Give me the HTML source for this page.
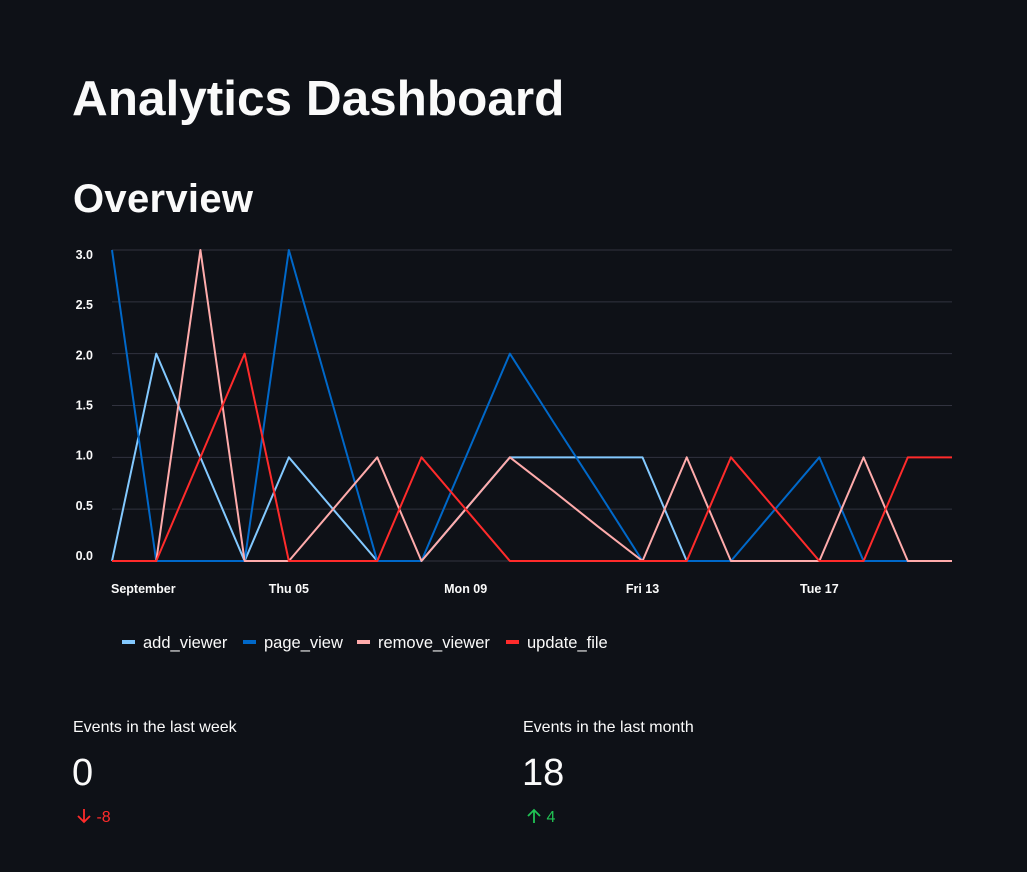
<!DOCTYPE html>
<html><head><meta charset="utf-8">
<style>
body{margin:0;background:#0e1117;width:1027px;height:872px;overflow:hidden;font-family:"Liberation Sans",sans-serif;color:#fafafa;position:relative}
.abs{position:absolute;white-space:nowrap}
</style></head><body>
<div class="abs" style="left:72px;top:70px;font-size:49.5px;font-weight:bold;letter-spacing:0px">Analytics Dashboard</div>
<div class="abs" style="left:73px;top:177px;font-size:40px;font-weight:bold;letter-spacing:0.3px">Overview</div>
<svg class="abs" style="left:0;top:0" width="1027" height="680" id="chart"></svg>
<div class="abs" style="left:73px;top:719px;font-size:16px">Events in the last week</div>
<div class="abs" style="left:72px;top:752px;font-size:38px">0</div>
<div class="abs" style="left:76px;top:808px;font-size:16px;color:#ff2b2b"><svg width="16" height="16" viewBox="0 0 16 16" style="vertical-align:-2px"><path d="M8 1v13M2 8l6 6 6-6" fill="none" stroke="#ff2b2b" stroke-width="1.8"/></svg> -8</div>
<div class="abs" style="left:523px;top:719px;font-size:16px">Events in the last month</div>
<div class="abs" style="left:522px;top:752px;font-size:38px">18</div>
<div class="abs" style="left:526px;top:808px;font-size:16px;color:#21c354"><svg width="16" height="16" viewBox="0 0 16 16" style="vertical-align:-2px"><path d="M8 15V2M2 8l6-6 6 6" fill="none" stroke="#21c354" stroke-width="1.8"/></svg> 4</div>
<script>
const days=[1,2,3,4,5,6,7,8,9,10,11,12,13,14,15,16,17,18,19,20];
const addViewer=[0,2,1,0,1,0.5,0,0,0.5,1,1,1,1,0,0,0,0,0,0,0];
const pageView=[3,0,0,0,3,1.5,0,0,1,2,1.33,0.67,0,0,0,0.5,1,0,0,0];
const removeViewer=[0,0,3,0,0,0.5,1,0,0.5,1,0.67,0.33,0,1,0,0,0,1,0,0];
const updateFile=[0,0,1,2,0,0,0,1,0.5,0,0,0,0,0,1,0.5,0,0,1,1];
const yTicks=[0,0.5,1,1.5,2,2.5,3];
const yTickLabels=["0.0","0.5","1.0","1.5","2.0","2.5","3.0"];
const xTickDays=[1,5,9,13,17];
const xTickLabels=["September","Thu 05","Mon 09","Fri 13","Tue 17"];
const seriesNames=["add_viewer","page_view","remove_viewer","update_file"];
const seriesColors=["#83c9ff","#0068c9","#ffabab","#ff2b2b"];
const seriesData=[addViewer,pageView,removeViewer,updateFile];
const legendX=[122,243,357,506];
const NS="http://www.w3.org/2000/svg";
const svg=document.getElementById('chart');
const x=d=>112+(d-1)*44.21;
const y=v=>561-v*103.67;
function mk(t,a){const e=document.createElementNS(NS,t);for(const k in a)e.setAttribute(k,a[k]);svg.appendChild(e);return e;}
yTicks.forEach((t,i)=>{
 const g=mk('line',{x1:112,x2:952,y1:y(t),y2:y(t),stroke:'#31333f',"stroke-width":1});
 
 
 const l=mk('text',{x:93,y:y(t)-1+t*3.33,"text-anchor":"end",fill:'#fafafa',"font-size":12.5,"font-weight":"bold","font-family":"Liberation Sans, sans-serif"});
 l.textContent=yTickLabels[i];
 
 
});
xTickDays.forEach((d,i)=>{
 const l=mk('text',{x:i==0?x(d)-1:x(d),y:593,"text-anchor":i==0?"start":"middle",fill:'#fafafa',"font-size":12.5,"font-weight":"bold","font-family":"Liberation Sans, sans-serif"});
 l.textContent=xTickLabels[i];
 
 
});
seriesData.forEach((s,k)=>{
 const p=mk('polyline',{points:s.map((v,i)=>x(days[i])+','+y(v)).join(' '),fill:'none',stroke:seriesColors[k],"stroke-width":2,"stroke-linejoin":"round"});
 
 
});
seriesNames.forEach((n,k)=>{
 const lx=legendX[k];
 const r=mk('rect',{x:lx,y:640,width:13,height:4,fill:seriesColors[k]});
 
 
 const t=mk('text',{x:lx+21,y:648,fill:'#fafafa',"font-size":16.5,"font-family":"Liberation Sans, sans-serif"});
 t.textContent=n;
 
 
});
</script>
</body></html>
